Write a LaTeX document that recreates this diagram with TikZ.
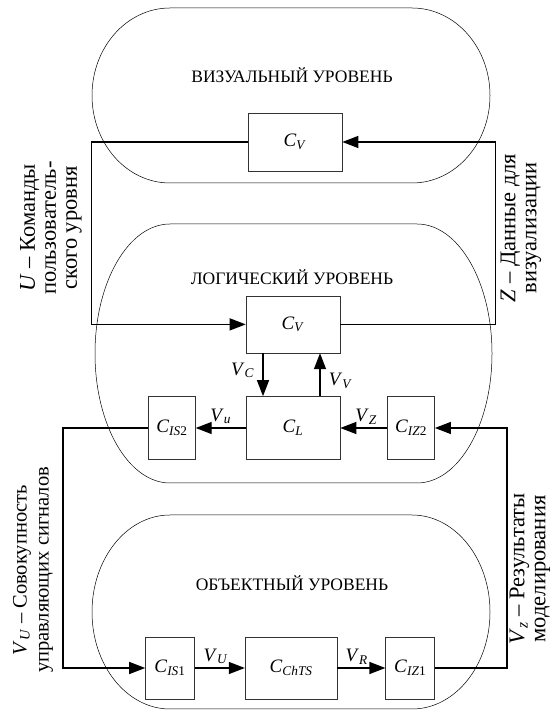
\documentclass[tikz,border=0pt]{standalone}
\usepackage{fontspec}
\setmainfont{Liberation Serif}
\usepackage{tikz}
\usetikzlibrary{arrows.meta, positioning}

\newcommand{\idx}[2]{\textit{#1}\textsubscript{\textit{#2}}}

\begin{document}
\begin{tikzpicture}[x=1pt, y=1pt, >={Triangle[length=16pt,width=12pt]},
      font=\fontsize{17.5}{19}\selectfont, node distance=50pt,
      blk/.style={draw=black!80, line width=0.6pt, inner sep=0pt, font=\fontsize{19}{20}\selectfont},
      lvl/.style={line width=0.5pt},
      conn/.style={->, line width=1.3pt},
      sig/.style={font=\fontsize{19}{20}\selectfont},
      side/.style={rotate=90, align=center, font=\fontsize{22.5}{21}\selectfont}]
      \useasboundingbox (0,0) rectangle (555,711);

      % levels
      \draw[lvl] (170,703) -- (412,703) arc[start angle=90, end angle=-90, x radius=78, y radius=87.5]
            -- (170,528) arc[start angle=270, end angle=90, x radius=78, y radius=87.5] -- cycle;
      \draw[lvl] (170,487) -- (417,487) arc[start angle=90, end angle=-90, x radius=75, y radius=129.5]
            -- (170,228) arc[start angle=270, end angle=90, x radius=75, y radius=129.5] -- cycle;
      \draw[lvl] (170,196) -- (412,196) arc[start angle=90, end angle=-90, x radius=78, y radius=97]
            -- (170,2) arc[start angle=270, end angle=90, x radius=78, y radius=97] -- cycle;

      \node (vis) at (292,636) {ВИЗУАЛЬНЫЙ УРОВЕНЬ};
      \node (log) at (292,434) {ЛОГИЧЕСКИЙ УРОВЕНЬ};
      \node (obj) at (292,128) {ОБЪЕКТНЫЙ УРОВЕНЬ};

      % blocks
      \node[blk, minimum width=94pt, minimum height=58pt] (cvtop) at (295,569) {\idx{C}{V}};
      \node[blk, minimum width=94pt, minimum height=63pt] (cl) at (293,283) {\idx{C}{L}};
      \node[blk, minimum width=94pt, minimum height=57pt, above=43pt of cl] (cvmid) {\idx{C}{V}};
      \node[blk, minimum width=47pt, minimum height=63pt, left=50pt of cl] (cis2) {\idx{C}{IS\textup{2}}};
      \node[blk, minimum width=47pt, minimum height=63pt, right=47pt of cl] (ciz2) {\idx{C}{IZ\textup{2}}};

      \node[blk, minimum width=49pt, minimum height=62pt] (cis1) at (170,43) {\idx{C}{IS\textup{1}}};
      \node[blk, minimum width=92pt, minimum height=62pt, right=50pt of cis1] (cchts) {\idx{C}{ChTS}};
      \node[blk, minimum width=49pt, minimum height=62pt, right=48pt of cchts] (ciz1) {\idx{C}{IZ\textup{1}}};

      % connections
      \draw[conn] (cvtop.west) -- ++(-156,0) |- (cvmid.west);
      \draw[conn] (cvmid.east) -- ++(155,0) |- (cvtop.east);
      \draw[conn] ([xshift=-30pt]cvmid.south) -- node[sig, left=5pt, pos=0.4]{\idx{V}{C}} ([xshift=-30pt]cvmid.south |- cl.north);
      \draw[conn] ([xshift=27pt]cvmid.south |- cl.north) -- node[sig, right=5pt, pos=0.35]{\idx{V}{V}} ([xshift=27pt]cvmid.south);
      \draw[conn] (cl) -- node[sig, above, pos=0.5]{\idx{V}{u}} (cis2);
      \draw[conn] (ciz2) -- node[sig, above, pos=0.45]{\idx{V}{Z}} (cl);
      \draw[conn] (cis2.west) -- ++(-85,0) |- (cis1.west);
      \draw[conn] (cis1) -- node[sig, above, pos=0.42]{\idx{V}{U}} (cchts);
      \draw[conn] (cchts) -- node[sig, above, pos=0.4]{\idx{V}{R}} (ciz1);
      \draw[conn] (ciz1.east) -- ++(72,0) |- (ciz2.east);

      % signal descriptions
      \node[side] (ucmd) at (51,483) {\textit{U} – Команды\\пользователь-\\ского уровня};
      \node[side] (zdat) at (521,483) {\textit{Z} – Данные для\\визуализации};
      \node[side, font=\fontsize{20.5}{22}\selectfont] (vuset) at (33,141) {\idx{V}{U} – Совокупность\\управляющих сигналов};
      \node[side] (vzres) at (530,142) {\idx{V}{z} – Результаты\\моделирования};
\end{tikzpicture}
\end{document}
